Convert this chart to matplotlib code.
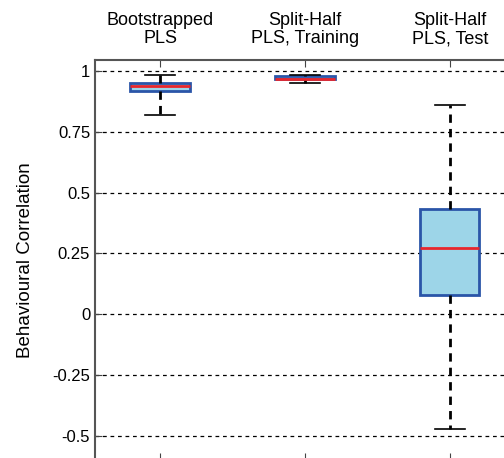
import numpy as np
import matplotlib
matplotlib.use("Agg")
import matplotlib.pyplot as plt

plt.rcParams['font.family'] = ['Liberation Sans', 'DejaVu Sans']

# Summary statistics for each analysis
labels = ["Bootstrapped\nPLS", "Split-Half\nPLS, Training", "Split-Half\nPLS, Test"]
whislo = [0.82, 0.952, -0.472]
q1 = [0.919, 0.966, 0.080]
med = [0.940, 0.968, 0.273]
q3 = [0.952, 0.980, 0.433]
whishi = [0.985, 0.984, 0.861]

stats = [dict(label=l, whislo=a, q1=b, med=c, q3=d, whishi=e)
         for l, a, b, c, d, e in zip(labels, whislo, q1, med, q3, whishi)]

fig = plt.figure(figsize=(5.04, 4.58), dpi=100)
ax = fig.add_axes([0.1885, -0.005, 0.833, 0.874])

ax.bxp(stats, positions=[1, 2, 3], widths=0.41, showfliers=False,
       patch_artist=True,
       boxprops=dict(facecolor='#9dd5e8', edgecolor='#2a55a8', linewidth=2),
       medianprops=dict(color='#e8262c', linewidth=2),
       whiskerprops=dict(color='black', linewidth=2, linestyle=(0, (3, 2.2))),
       capprops=dict(color='black', linewidth=1.2),
       zorder=3)

ax.set_xlim(0.55, 3.45)
ax.set_ylim(-0.6, 1.045)
ax.set_yticks([-0.5, -0.25, 0, 0.25, 0.5, 0.75, 1])
ax.set_yticklabels(['-0.5', '-0.25', '0', '0.25', '0.5', '0.75', '1'])
ax.yaxis.grid(True, color='black', linestyle=(0, (3, 3)), linewidth=0.9)
ax.set_axisbelow(True)

ax.xaxis.tick_top()
ax.set_xticks([1, 2, 3])
ax.set_xticklabels(labels, fontsize=13, linespacing=1.15)
ax.tick_params(axis='x', which='both', top=True, bottom=True, direction='in',
               length=5, color='#444444', pad=9)
ax.tick_params(axis='y', direction='in', length=5, labelsize=12, color='#444444')
ax.set_ylabel("Behavioural Correlation", fontsize=13.5, labelpad=13)

for s in ax.spines.values():
    s.set_color('#555555')
    s.set_linewidth(1.5)

fig.savefig("out.png", dpi=100)
